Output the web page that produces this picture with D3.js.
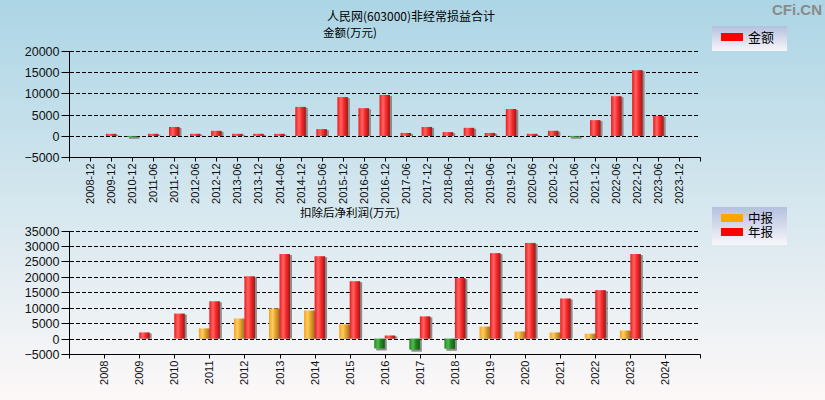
<!DOCTYPE html>
<html>
<head>
<meta charset="utf-8">
<script src="https://cdn.jsdelivr.net/npm/d3@7/dist/d3.min.js"></script>
<style>
  body { margin: 0; padding: 0; }
  svg { display: block; }
  text { font-family: "Liberation Sans", Arial, "Noto Sans CJK SC", sans-serif; }
  .cjk { font-family: "Noto Sans CJK SC", "Liberation Sans", sans-serif; }
  .leg { font-family: "Liberation Sans", "Noto Sans CJK SC", sans-serif; }
</style>
</head>
<body>
<div id="chart"></div>
<script>
////////// data //////////
const topCats = ["2008-12", "2009-12", "2010-12", "2011-06", "2011-12", "2012-06", "2012-12", "2013-06",
  "2013-12", "2014-06", "2014-12", "2015-06", "2015-12", "2016-06", "2016-12", "2017-06", "2017-12",
  "2018-06", "2018-12", "2019-06", "2019-12", "2020-06", "2020-12", "2021-06", "2021-12", "2022-06",
  "2022-12", "2023-06", "2023-12"];
const topVals = [null, 500, -200, 500, 2100, 500, 1200, 500, 500, 500, 6800, 1600, 9100, 6500, 9600, 700,
  2100, 900, 1900, 700, 6300, 500, 1200, -200, 3700, 9300, 15400, 4700, null];
const topTicks = [-5000, 0, 5000, 10000, 15000, 20000];

const years = ["2008", "2009", "2010", "2011", "2012", "2013", "2014", "2015", "2016", "2017", "2018",
  "2019", "2020", "2021", "2022", "2023", "2024"];
const midVals = [null, null, null, 3300, 6500, 9800, 9100, 4600, -3200, -3600, -3300, 3900, 2300, 2000, 1600, 2600, null];
const annualVals = [null, 2000, 8100, 12100, 20200, 27400, 26700, 18600, 1000, 7200, 19600, 27700, 31000, 13000, 15700, 27400, null];
const bottomTicks = [-5000, 0, 5000, 10000, 15000, 20000, 25000, 30000, 35000];

const width = 825, height = 400;

const svg = d3.select("#chart").append("svg")
  .attr("width", width)
  .attr("height", height);

const defs = svg.append("defs");

// background
const bg = defs.append("linearGradient").attr("id", "bg")
  .attr("x1", 0).attr("y1", 0).attr("x2", 0).attr("y2", 1);
bg.append("stop").attr("offset", "0%").attr("stop-color", "#acd5e5");
bg.append("stop").attr("offset", "100%").attr("stop-color", "#fdf8f8");

const lg = defs.append("linearGradient").attr("id", "legbg")
  .attr("x1", 0).attr("y1", 0).attr("x2", 0).attr("y2", 1);
lg.append("stop").attr("offset", "0%").attr("stop-color", "#b4c0de");
lg.append("stop").attr("offset", "100%").attr("stop-color", "#f8f6fa");

// cylinder style bar gradients
function barGrad(id, stops) {
  const g = defs.append("linearGradient").attr("id", id)
    .attr("x1", 0).attr("y1", 0).attr("x2", 1).attr("y2", 0);
  stops.forEach(s => g.append("stop").attr("offset", s[0]).attr("stop-color", s[1]));
}
barGrad("gRed", [["0%", "#f01818"], ["35%", "#ff6666"], ["60%", "#ff2a2a"], ["100%", "#9a1818"]]);
barGrad("gOrange", [["0%", "#f4a418"], ["35%", "#ffcc66"], ["60%", "#eaa428"], ["100%", "#9c7428"]]);
barGrad("gGreen", [["0%", "#1a8a1a"], ["35%", "#55b855"], ["60%", "#228b22"], ["100%", "#0f5c0f"]]);

svg.append("rect").attr("width", width).attr("height", height).attr("fill", "url(#bg)");

// watermark
svg.append("text")
  .attr("x", 822).attr("y", 15)
  .attr("text-anchor", "end")
  .attr("font-size", "15px")
  .attr("font-weight", "bold")
  .attr("fill", "#8a8a8a")
  .text("CFi.CN");

// main title
svg.append("text").attr("class", "cjk")
  .attr("x", 411).attr("y", 20.5)
  .attr("text-anchor", "middle")
  .attr("font-size", "12px")
  .attr("fill", "#000")
  .text("人民网(603000)非经常损益合计");

////////// panel helper //////////
function drawPanel(cfg) {
  const g = svg.append("g");
  const x = d3.scalePoint().domain(cfg.cats).range([69, 700.5]).padding(1);
  const y = d3.scaleLinear().domain([cfg.ticks[0], cfg.ticks[cfg.ticks.length - 1]]).range(cfg.yRange);

  g.append("text").attr("class", "cjk")
    .attr("x", 350).attr("y", cfg.yRange[1] - 13.5)
    .attr("text-anchor", "middle")
    .attr("font-size", "11.5px")
    .attr("fill", "#000")
    .text(cfg.subtitle);

  // dashed grid lines
  g.append("g").selectAll("line")
    .data(cfg.ticks.slice(1))
    .enter().append("line")
    .attr("x1", 70).attr("x2", 700)
    .attr("y1", d => Math.round(y(d)) + 0.5)
    .attr("y2", d => Math.round(y(d)) + 0.5)
    .attr("stroke", "#000")
    .attr("stroke-dasharray", "4,2");

  // y axis
  const yAxis = d3.axisLeft(y).tickValues(cfg.ticks).tickSize(8).tickPadding(2).tickFormat(d3.format("d"));
  const ya = g.append("g").attr("transform", "translate(69.5,0)").call(yAxis);
  ya.select(".domain").remove();
  ya.selectAll(".tick line").attr("x2", 2).attr("x1", -8).attr("stroke", "#000");
  ya.selectAll(".tick").attr("transform", d => `translate(0,${Math.round(y(d)) + 0.5})`);
  ya.selectAll("text").attr("font-size", "12.5px").attr("fill", "#111")
    .attr("font-family", "'Liberation Sans', Arial, sans-serif");

  const yBase = Math.round(y(cfg.ticks[0])) + 0.5;
  // left axis line
  g.append("line")
    .attr("x1", 69.5).attr("x2", 69.5)
    .attr("y1", Math.round(y(cfg.ticks[cfg.ticks.length - 1]))).attr("y2", yBase + 4)
    .attr("stroke", "#000");

  // x axis
  const xAxis = d3.axisBottom(x).tickSize(4).tickSizeOuter(0);
  const xa = g.append("g").attr("transform", `translate(0,${yBase})`).call(xAxis);
  xa.select(".domain").remove();
  xa.selectAll(".tick").attr("transform", d => `translate(${Math.round(x(d)) + 0.5},0)`);
  xa.selectAll(".tick line").attr("stroke", "#000");
  xa.selectAll("text")
    .attr("font-size", "11px")
    .attr("fill", "#111")
    .attr("font-family", "'Liberation Sans', Arial, sans-serif")
    .attr("text-anchor", "end")
    .attr("transform", "rotate(-90)")
    .attr("x", -6).attr("y", 0).attr("dy", "0.35em");
  g.append("line")
    .attr("x1", 69.5).attr("x2", 700.5)
    .attr("y1", yBase).attr("y2", yBase)
    .attr("stroke", "#000");
  g.append("line")
    .attr("x1", 700.5).attr("x2", 700.5)
    .attr("y1", yBase).attr("y2", yBase + 4)
    .attr("stroke", "#000");

  // bars
  const y0 = y(0);
  cfg.series.forEach(s => {
    const data = cfg.cats.map((c, i) => ({ c: c, v: s.values[i] })).filter(d => d.v != null);
    const bx = d => x(d.c) + s.offset;
    const by = d => Math.min(y(d.v), y0);
    const bh = d => Math.abs(y(d.v) - y0);
    const bars = g.append("g");
    // shadow
    bars.selectAll("rect.sh")
      .data(data).enter().append("rect")
      .attr("class", "sh")
      .attr("x", d => bx(d) + 2)
      .attr("y", d => by(d) + 1)
      .attr("width", s.bw)
      .attr("height", d => d.v >= 0 ? Math.max(bh(d) - 1, 0) : bh(d) + 1)
      .attr("fill", "#8c8c8c");
    bars.selectAll("rect.bar")
      .data(data).enter().append("rect")
      .attr("class", "bar")
      .attr("x", bx)
      .attr("y", by)
      .attr("width", s.bw)
      .attr("height", d => Math.max(bh(d), 1))
      .attr("fill", d => d.v < 0 ? "url(#gGreen)" : s.fill);
  });

  // legend
  const leg = svg.append("g").attr("transform", `translate(712,${cfg.legY})`);
  leg.append("rect")
    .attr("width", 75).attr("height", 12 + cfg.legend.length * 13)
    .attr("fill", "url(#legbg)");
  cfg.legend.forEach((l, i) => {
    leg.append("rect")
      .attr("x", 9).attr("y", 7 + i * 14)
      .attr("width", 22).attr("height", 8)
      .attr("fill", l.color);
    leg.append("text").attr("class", "leg")
      .attr("x", 36).attr("y", 11 + i * 14)
      .attr("dy", "0.38em")
      .attr("font-size", cfg.legend.length > 1 ? "12.5px" : "13px")
      .attr("fill", "#000")
      .text(l.name);
  });
}

drawPanel({
  cats: topCats,
  ticks: topTicks,
  yRange: [157.3, 50.5],
  subtitle: "金额(万元)",
  series: [{ values: topVals, offset: -5.25, bw: 10.5, fill: "url(#gRed)" }],
  legY: 26,
  legend: [{ name: "金额", color: "#ff0000" }]
});

drawPanel({
  cats: years,
  ticks: bottomTicks,
  yRange: [354, 230.6],
  subtitle: "扣除后净利润(万元)",
  series: [
    { values: midVals, offset: -10.5, bw: 10.5, fill: "url(#gOrange)" },
    { values: annualVals, offset: 0, bw: 10.5, fill: "url(#gRed)" }
  ],
  legY: 207,
  legend: [{ name: "中报", color: "#ffa500" }, { name: "年报", color: "#ff0000" }]
});
</script>
</body>
</html>
